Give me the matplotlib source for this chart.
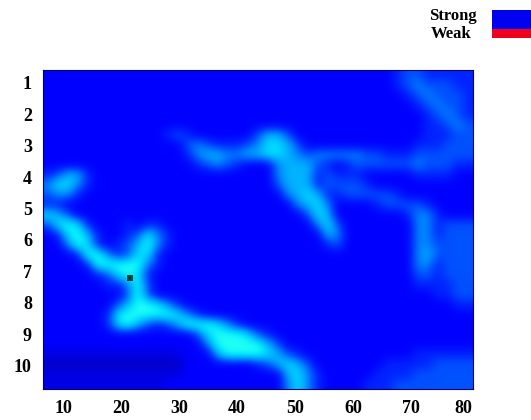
import numpy as np
import matplotlib
matplotlib.use("Agg")
import matplotlib.pyplot as plt
from matplotlib.colors import LinearSegmentedColormap

plt.rcParams["font.family"] = "Liberation Serif"
plt.rcParams["font.weight"] = "bold"

# signal strength, 0 = weakest .. 8 = strongest
strength_rows = [
    "2222222222" "2222222222" "2222222222" "2222234433" "333",
    "2222222222" "2222222222" "2222222222" "2222234544" "433",
    "2222222222" "2222222222" "2222222222" "2222223454" "443",
    "2222222222" "2222222222" "2222222222" "2222222345" "443",
    "2222222222" "2222222222" "2222222222" "2222222234" "543",
    "2222222222" "2222222222" "2222222222" "2222222233" "454",
    "2222222222" "2234322222" "2466422222" "2222222233" "344",
    "2222222222" "2222454333" "4577642222" "2222222333" "444",
    "2222222222" "2222356655" "6677654555" "5544333444" "444",
    "2222222222" "2222234543" "2225666432" "3444444544" "433",
    "3466322222" "2222222222" "2225666343" "3322222333" "322",
    "5775322222" "2222222222" "2224666344" "4432222222" "222",
    "4553222222" "2222222222" "2222567633" "4444432222" "222",
    "3322222222" "2222222222" "2222256752" "2223444432" "222",
    "7642222222" "2222222222" "2222224762" "2222223553" "222",
    "4787322232" "3322222222" "2222222574" "2222222553" "444",
    "2378632234" "7532222222" "2222222265" "2222222553" "444",
    "2258732346" "8532222222" "2222222234" "2222222554" "444",
    "2223885347" "7322222222" "2222222222" "2222222564" "444",
    "2222388888" "5322222222" "2222222222" "2222222553" "444",
    "2222234787" "3222222222" "2222222222" "2222222443" "444",
    "2222223358" "4222222222" "2222222222" "2222222333" "344",
    "2222222248" "4222222222" "2222222222" "2222222223" "344",
    "2222222468" "8753222222" "2222222222" "2222222222" "233",
    "2222223788" "8887532222" "2222222222" "2222222222" "222",
    "2222223786" "4346888753" "2222222222" "2222222222" "222",
    "2222222222" "2222247888" "7432222222" "2222222222" "222",
    "2222222222" "2222225888" "8864222222" "2222222222" "222",
    "1111111111" "1111222688" "8876432222" "2222222333" "333",
    "0000000000" "0000222222" "2346764222" "2222333334" "444",
    "1111111111" "1111222222" "2222675322" "2223333444" "444",
    "1111111111" "1122222222" "2222575322" "2233344444" "444",
]

x_ticks = [10, 20, 30, 40, 50, 60, 70, 79]
x_labels = ["10", "20", "30", "40", "50", "60", "70", "80"]
y_ticks = [1, 2, 3, 4, 5, 6, 7, 8, 9, 10]
y_labels = ["1", "2", "3", "4", "5", "6", "7", "8", "9", "10"]

# the one dark spot on the ridge
spot_x = [21.6]
spot_y = [7.2]

legend_names = ["Strong", "Weak"]

strength = np.array([[int(ch) for ch in row] for row in strength_rows])

cmap = LinearSegmentedColormap.from_list("signal", [
    (0, 0, 0.78), (0, 0, 0.9), (0, 0, 1), (0, 0.14, 1), (0, 0.32, 1),
    (0, 0.52, 1), (0, 0.7, 1), (0, 0.87, 1), (0.12, 1, 0.96)])

fig = plt.figure(figsize=(5.31, 4.2), dpi=100)
ax = fig.add_axes([43 / 531, 31 / 420, 430 / 531, 319 / 420])
ax.imshow(strength, cmap=cmap, vmin=0, vmax=8, aspect="auto",
          interpolation="bicubic", extent=(6.55, 80.7, 10.75, 0.586))
ax.scatter(spot_x, spot_y, s=18, marker="s", color="#07402c", linewidths=0)

ax.set_xticks(x_ticks)
ax.set_xticklabels(x_labels, fontsize=13)
ax.set_yticks(y_ticks)
ax.set_yticklabels(y_labels, fontsize=13)
ax.tick_params(length=0, pad=8)
for spine in ax.spines.values():
    spine.set_color("#00006e")
    spine.set_linewidth(0.8)

# legend in the top right corner
fig.text(477 / 531, 1 - 16 / 420, legend_names[0], ha="right", va="center", fontsize=12)
fig.text(472 / 531, 1 - 34 / 420, legend_names[1], ha="right", va="center", fontsize=12)
key = fig.add_axes([492 / 531, 1 - 38 / 420, 39 / 531, 28 / 420])
key.imshow([[0], [0], [1]], cmap=LinearSegmentedColormap.from_list("key", ["#0000f0", "#f0001e"]),
           aspect="auto", interpolation="nearest")
key.set_axis_off()

fig.savefig("out.png", dpi=100)
